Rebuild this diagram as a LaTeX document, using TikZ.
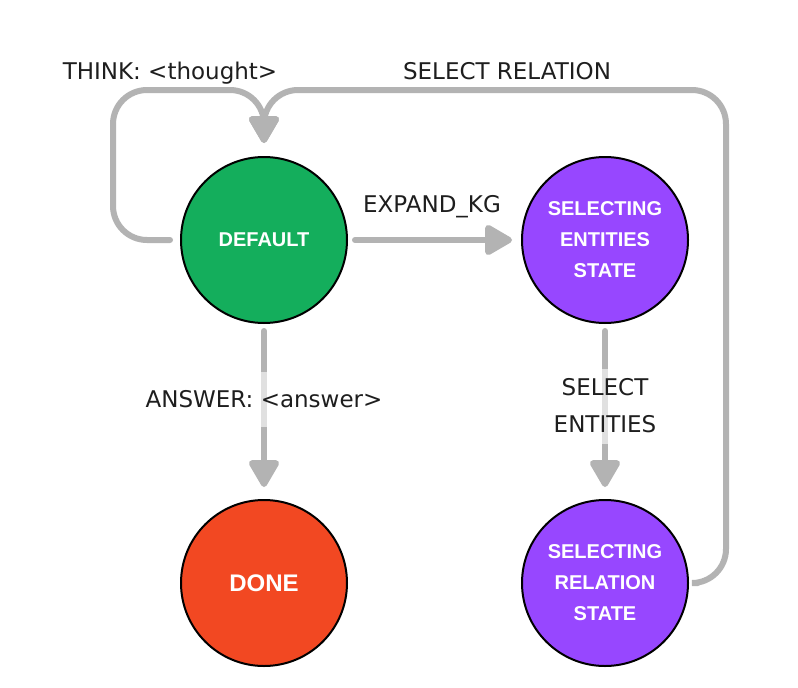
\documentclass[tikz,border=0pt]{standalone}
\usepackage{fontspec}
\setmainfont{DejaVu Sans}
\newfontfamily\statefont{Liberation Sans}
\usetikzlibrary{arrows.meta}
\definecolor{stgreen}{HTML}{14AE5C}
\definecolor{stpurple}{HTML}{9747FF}
\definecolor{stred}{HTML}{F24822}
\definecolor{edgegray}{HTML}{B3B3B3}
\definecolor{ink}{HTML}{1E1E1E}
\begin{document}
\begin{tikzpicture}[x=1pt,y=-1pt,
  state/.style={circle,draw=black,line width=2pt,minimum size=166pt,inner sep=0pt,
    text=white,font=\statefont\bfseries\fontsize{20}{31}\selectfont,align=center},
  edge/.style={draw=edgegray,line width=6pt,line cap=round,
    -{Triangle[length=30pt,width=33pt,round]}},
  lbl/.style={text=ink,font=\fontsize{23}{37}\selectfont,align=center},
  onedge/.style={lbl,fill=white,fill opacity=0.6,text opacity=1,inner xsep=2pt}
  ]
\useasboundingbox[fill=white] (0,0) rectangle (798,688);
\node[state,fill=stgreen] (def) at (264,240) {DEFAULT};
\node[state,fill=stpurple] (sel) at (605,240) {SELECTING\\ENTITIES\\STATE};
\node[state,fill=stred,font=\statefont\bfseries\fontsize{24}{31}\selectfont] (done) at (264,583) {DONE};
\node[state,fill=stpurple] (rel) at (605,583) {SELECTING\\RELATION\\STATE};
\coordinate (tl) at (113,90);
\coordinate (tr) at (726,90);
% edges
\draw[edge,shorten <=7pt,shorten >=9pt] (def) -- (sel);
\draw[edge,shorten <=7pt,shorten >=12pt] (def) -- (done);
\draw[edge,shorten <=7pt,shorten >=12pt] (sel) -- (rel);
\draw[edge,rounded corners=34pt,shorten <=10pt,shorten >=13pt] (def.west) -| (tl) -| (def.north);
\draw[edge,rounded corners=34pt,shorten <=9pt,shorten >=13pt] (rel.east) -| (tr) -| (def.north);
% labels
\node[lbl,anchor=base] (thinklbl) at (170,79) {THINK: <thought>};
\node[lbl,anchor=base] (rellbl) at (507,79) {SELECT RELATION};
\node[lbl,anchor=base] (explbl) at (432,212) {EXPAND\_KG};
\node[onedge,minimum height=55pt] (anslbl) at (264,399) {ANSWER: <answer>};
\node[onedge,minimum height=75pt] (entlbl) at (605,406) {SELECT\\ENTITIES};
\end{tikzpicture}
\end{document}
